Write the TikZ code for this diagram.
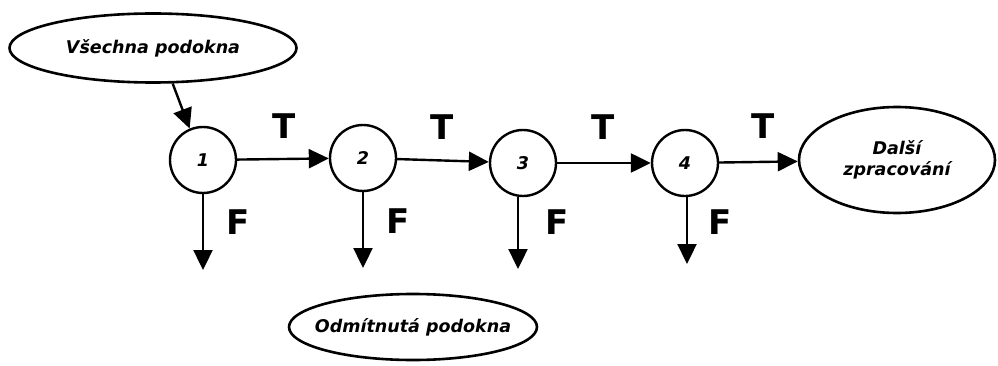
\documentclass[tikz,border=0pt]{standalone}
\usepackage{fontspec}
\setmainfont{DejaVu Sans}
\usetikzlibrary{arrows.meta,shapes.geometric}
\tikzset{
  lbl/.style={font=\fontsize{17.5}{21}\selectfont\bfseries\itshape, align=center},
  oval/.style={draw, ellipse, line width=2.6pt, inner sep=0pt, lbl},
  test/.style={draw, circle, line width=2.4pt, minimum size=66pt, inner sep=0pt, lbl},
  conn/.style={line width=2.4pt, -{Triangle[length=20pt,width=19pt]}},
  tf/.style={font=\fontsize{34}{36}\selectfont\bfseries}
}
\begin{document}
\begin{tikzpicture}[x=1pt,y=1pt]
\useasboundingbox (0,0) rectangle (998,365);
\node[oval, minimum width=287pt, minimum height=69pt] (all) at (153,317) {Všechna podokna};
\node[test] (c1) at (203,205) {1};
\node[test] (c2) at (363,207) {2};
\node[test] (c3) at (523,202) {3};
\node[test] (c4) at (685,202) {4};
\node[oval, minimum width=196pt, minimum height=106pt] (dal) at (897,205) {Další\\zpracování};
\node[oval, inner xsep=-14pt, minimum width=248pt, minimum height=66pt] (odm) at (413,38) {Odmítnutá podokna};
\coordinate (f1) at (203,95);
\coordinate (f2) at (363,97);
\coordinate (f3) at (518,96);
\coordinate (f4) at (687,101);
\draw[conn] (all.-61) -- (c1.113);
\draw[conn] (c1) -- (c2);
\draw[conn] (c2) -- (c3);
\draw[conn] (c3) -- (c4);
\draw[conn] (c4) -- (dal);
\draw[conn] (c1.south) -- (f1);
\draw[conn] (c2.south) -- (f2);
\draw[conn] (c3.south -| f3) -- (f3);
\draw[conn] (c4.south -| f4) -- (f4);
\node[tf] (t1) at (284,239) {T};
\node[tf] (t2) at (442,238) {T};
\node[tf] (t3) at (603,238) {T};
\node[tf] (t4) at (763,239) {T};
\node[tf] (ff1) at (238,143) {F};
\node[tf] (ff2) at (398,144) {F};
\node[tf] (ff3) at (557,143) {F};
\node[tf] (ff4) at (720,143) {F};
\end{tikzpicture}
\end{document}
